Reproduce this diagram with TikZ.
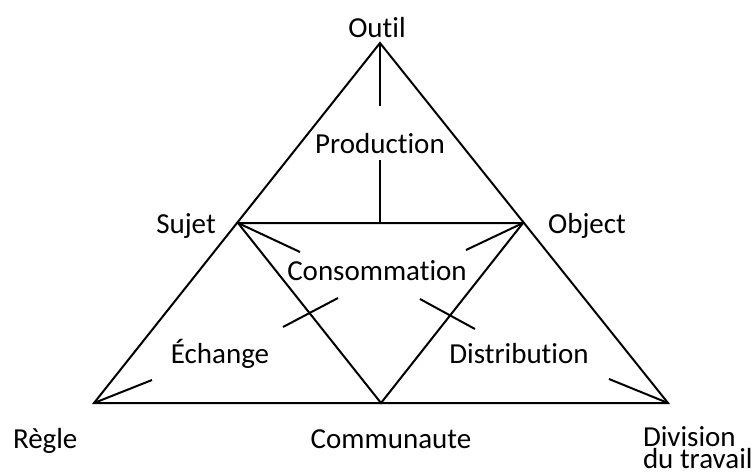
\documentclass[tikz,border=0pt]{standalone}
\usepackage{fontspec}
\setmainfont{Carlito}[Ligatures=NoCommon]
\begin{document}
\begin{tikzpicture}[x=1pt,y=-1pt,line width=2pt,
		lbl/.style={font=\fontsize{29}{20}\selectfont,inner sep=0pt,anchor=base}]
		\useasboundingbox (0,0) rectangle (752,475);
		% corners of the big triangle and of the middle one
		\coordinate (outil) at (380,43);
		\coordinate (regle) at (94,403);
		\coordinate (division) at (668,403);
		\coordinate (sujet) at (238,223);
		\coordinate (object) at (523,223);
		\coordinate (communaute) at (381,403);
		\coordinate (milieu) at (380,223);
		\draw (outil) -- (division) -- (regle) -- cycle;
		\draw (sujet) -- (object) -- (communaute) -- cycle;
		% the short strokes
		\coordinate (prodhaut) at (380,106);
		\coordinate (prodbas) at (380,160);
		\coordinate (sujetfin) at (300,252);
		\coordinate (objectfin) at (466,250);
		\coordinate (echA) at (283,327);
		\coordinate (echB) at (338,298);
		\coordinate (disA) at (420,299);
		\coordinate (disB) at (475,329);
		\coordinate (reglefin) at (152,380);
		\coordinate (divisionfin) at (609,379);
		\draw (outil) -- (prodhaut);
		\draw (prodbas) -- (milieu);
		\draw (sujet) -- (sujetfin);
		\draw (object) -- (objectfin);
		\draw (echA) -- (echB);
		\draw (disA) -- (disB);
		\draw (regle) -- (reglefin);
		\draw (division) -- (divisionfin);
		% labels
		\node[lbl] (loutil) at (377,37) {Outil};
		\node[lbl] (lprod) at (380,153) {Production};
		\node[lbl] (lsujet) at (186,233) {Sujet};
		\node[lbl] (lobject) at (587,233) {Object};
		\node[lbl] (lconso) at (377,280) {Consommation};
		\node[lbl] (lechange) at (220,363) {Échange};
		\node[lbl] (ldistrib) at (519,363) {Distribution};
		\node[lbl,anchor=base west] (lregle) at (12,448) {Règle};
		\node[lbl] (lcommu) at (391,448) {Communaute};
		\node[lbl,anchor=base west,align=left] (ldivision) at (642,468) {Division\\du travail};
	\end{tikzpicture}
\end{document}
